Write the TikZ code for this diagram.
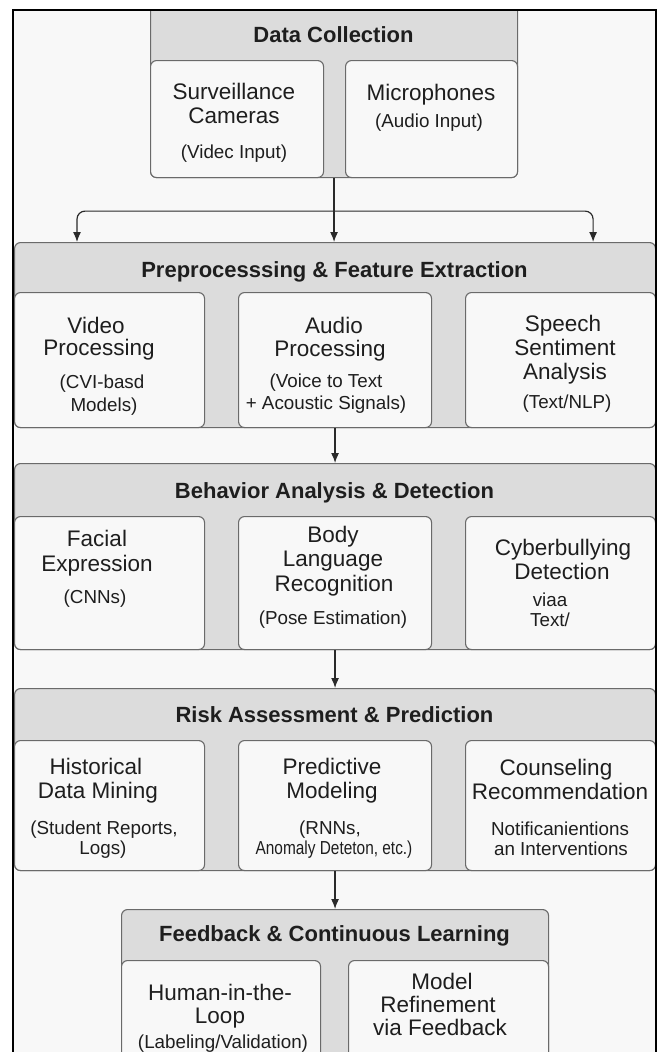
\documentclass[tikz,border=0pt]{standalone}
\usepackage{fontspec}
\setmainfont{Liberation Sans}
\usetikzlibrary{arrows.meta}

\definecolor{pagebg}{HTML}{F8F8F8}
\definecolor{hdrgray}{HTML}{DCDCDC}
\definecolor{cellfill}{HTML}{F8F8F8}
\definecolor{edge}{HTML}{6A6A6A}
\definecolor{ink}{HTML}{1E1E1E}
\definecolor{wire}{HTML}{2A2A2A}

% rectangle node given by its top-left and bottom-right corners
\newcommand\boxnode[6]{%
  \node[#1, anchor=north west, inner sep=0pt,
        minimum width={(#5)-(#3)}, minimum height={(#6)-(#4)}] (#2) at (#3,#4) {};}

\begin{document}
\begin{tikzpicture}[x=1pt, y=-1pt,
  panel/.style={draw=edge, fill=hdrgray, line width=1.1pt, rounded corners=6pt},
  cell/.style={draw=edge, fill=cellfill, line width=1.1pt, rounded corners=6pt},
  head/.style={anchor=base, inner sep=0pt, text=ink, font=\fontsize{22}{24}\selectfont\bfseries},
  ttl/.style={anchor=base, inner sep=0pt, text=ink, font=\fontsize{22.5}{24}\selectfont},
  note/.style={anchor=base, inner sep=0pt, text=ink, font=\fontsize{18.8}{20}\selectfont},
  flow/.style={draw=wire, line width=1.2pt, -{Latex[length=10pt,width=8pt]}},
]
\useasboundingbox (0,0) rectangle (657,1052);
\fill[white] (0,0) rectangle (657,1052);
\fill[pagebg] (13,10) rectangle (656,1052);

\begin{scope}
\clip (13,10) rectangle (656,1052);

% ---------- Data Collection ----------
\boxnode{panel}{dc}{150}{0}{517}{177}
\boxnode{cell}{sv}{150}{60}{323}{177}
\boxnode{cell}{mic}{345}{60}{517}{177}
\node[head] (dcT) at (333.5,42) {Data Collection};
\node[ttl]  (svA) at (234,99)  {Surveillance};
\node[ttl]  (svB) at (234,123) {Cameras};
\node[note] (svC) at (234,158) {(Videc Input)};
\node[ttl]  (micA) at (431,100) {Microphones};
\node[note] (micB) at (429,127) {(Audio Input)};

% ---------- Preprocessing ----------
\boxnode{panel}{pp}{14}{242}{655}{427}
\boxnode{cell}{vid}{14}{292}{204}{427}
\boxnode{cell}{aud}{238}{292}{431}{427}
\boxnode{cell}{sp}{465}{292}{655}{427}
\node[head] (ppT) at (334.5,277) {Preprocesssing \& Feature Extraction};
\node[ttl]  (vidA) at (96,333) {Video};
\node[ttl]  (vidB) at (99,355) {Processing};
\node[note] (vidC) at (102,388) {(CVI-basd};
\node[note] (vidD) at (104,411) {Models)};
\node[ttl]  (audA) at (334,333) {Audio};
\node[ttl]  (audB) at (330,356) {Processing};
\node[note] (audC) at (326,387) {(Voice to Text};
\node[note] (audD) at (326,409) {+ Acoustic Signals)};
\node[ttl]  (spA) at (563,331) {Speech};
\node[ttl]  (spB) at (565,355) {Sentiment};
\node[ttl]  (spC) at (565,379) {Analysis};
\node[note] (spD) at (567,408) {(Text/NLP)};

% ---------- Behavior Analysis ----------
\boxnode{panel}{ba}{14}{463}{655}{649}
\boxnode{cell}{fac}{14}{516}{204}{649}
\boxnode{cell}{body}{238}{516}{431}{649}
\boxnode{cell}{cyb}{465}{516}{655}{649}
\node[head] (baT) at (334.5,498) {Behavior Analysis \& Detection};
\node[ttl]  (facA) at (97,546) {Facial};
\node[ttl]  (facB) at (97,571) {Expression};
\node[note] (facC) at (95,603) {(CNNs)};
\node[ttl]  (bodyA) at (333,542) {Body};
\node[ttl]  (bodyB) at (333,566) {Language};
\node[ttl]  (bodyC) at (334,591) {Recognition};
\node[note] (bodyD) at (333,624) {(Pose Estimation)};
\node[ttl]  (cybA) at (563,555) {Cyberbullying};
\node[ttl]  (cybB) at (562,579) {Detection};
\node[note] (cybC) at (550,606) {viaa};
\node[note] (cybD) at (550,626) {Text/};

% ---------- Risk Assessment ----------
\boxnode{panel}{ra}{14}{688}{655}{870}
\boxnode{cell}{hist}{14}{740}{204}{870}
\boxnode{cell}{pred}{238}{740}{431}{870}
\boxnode{cell}{cou}{465}{740}{655}{870}
\node[head] (raT) at (334.5,722) {Risk Assessment \& Prediction};
\node[ttl]  (histA) at (96,774) {Historical};
\node[ttl]  (histB) at (98,798) {Data Mining};
\node[note] (histC) at (104,834) {(Student Reports,};
\node[note] (histD) at (103,854) {Logs)};
\node[ttl]  (predA) at (332,774) {Predictive};
\node[ttl]  (predB) at (332,798) {Modeling};
\node[note] (predC) at (330,834) {(RNNs,};
\node[note] (predD) at (334,854) {\scalebox{0.82}[1]{Anomaly Deteton, etc.)}};
\node[ttl]  (couA) at (556,775) {Counseling};
\node[ttl]  (couB) at (560,799) {Recommendation};
\node[note] (couC) at (560,835) {Notificanientions};
\node[note] (couD) at (561,855) {an Interventions};

% ---------- Feedback ----------
\boxnode{panel}{fb}{121}{909}{548}{1090}
\boxnode{cell}{hum}{121}{960}{320}{1090}
\boxnode{cell}{mod}{348}{960}{548}{1090}
\node[head] (fbT) at (334.5,941) {Feedback \& Continuous Learning};
\node[ttl]  (humA) at (220,1000) {Human-in-the-};
\node[ttl]  (humB) at (220,1023) {Loop};
\node[note] (humC) at (223,1048) {(Labeling/Validation)};
\node[ttl]  (modA) at (442,989) {Model};
\node[ttl]  (modB) at (438,1012) {Refinement};
\node[ttl]  (modC) at (440,1035) {via Feedback};

% ---------- connectors ----------
\path (dc.south) ++(0,33) coordinate (fork);
\path (pp.north west) ++(63,0) coordinate (inL);
\path (pp.north east) ++(-63,0) coordinate (inR);
\draw[flow] (dc.south) -- (dc.south |- pp.north);
\draw[flow, rounded corners=8pt] (fork) -| (inL);
\draw[flow, rounded corners=8pt] (fork) -| (inR);
\draw[flow] (pp.south) -- (ba.north);
\draw[flow] (ba.south) -- (ra.north);
\draw[flow] (ra.south) -- (fb.north);
\end{scope}

% outer frame
\draw[black, line width=1.3pt] (13,1060) -- (13,10) -- (656,10) -- (656,1060);
\end{tikzpicture}
\end{document}
